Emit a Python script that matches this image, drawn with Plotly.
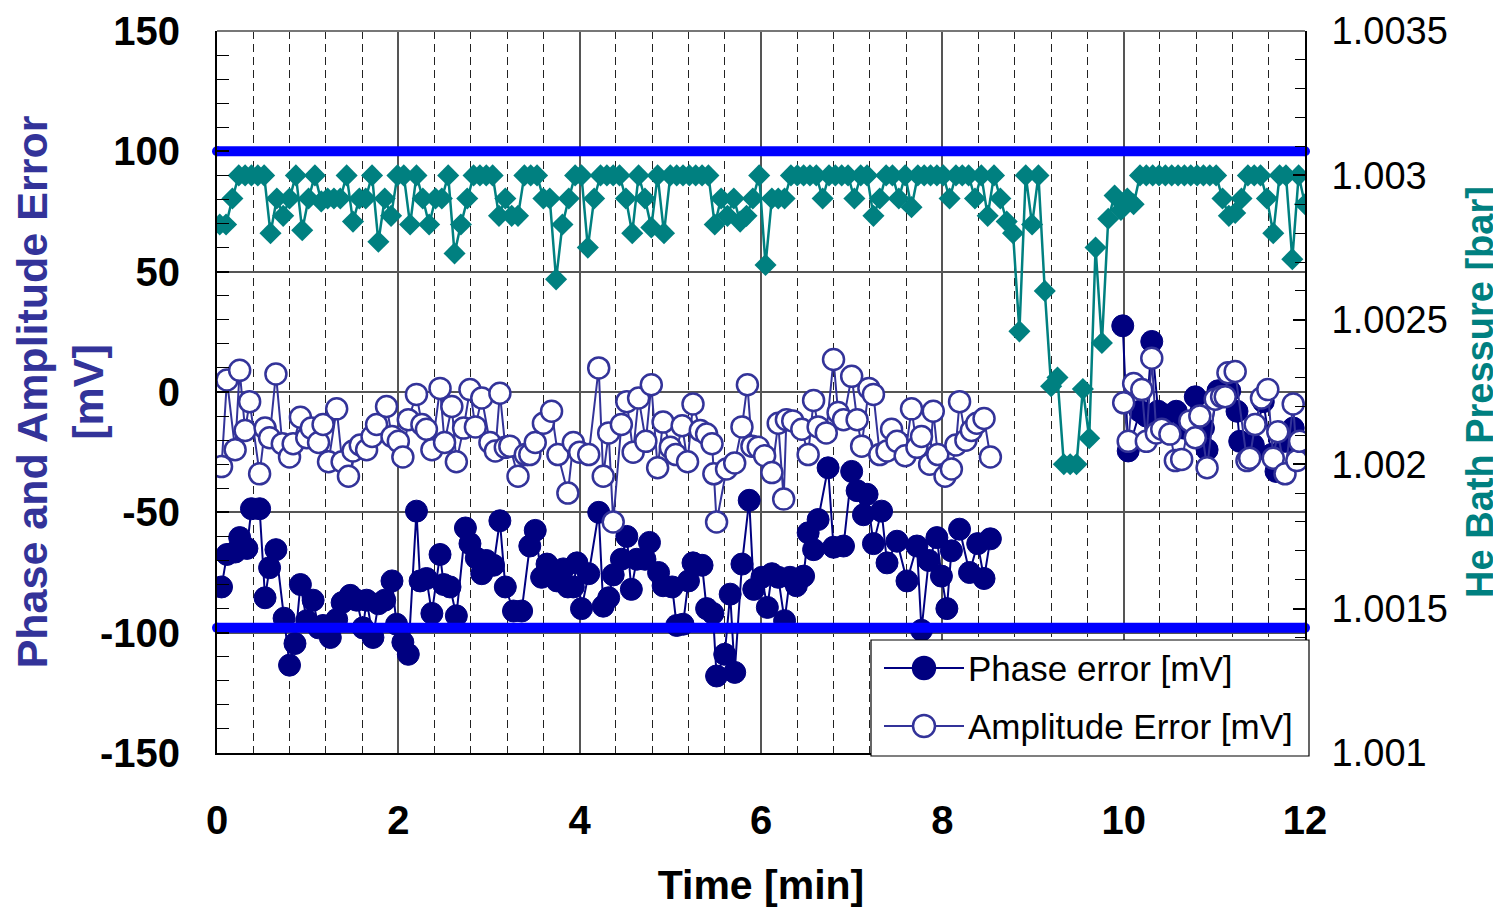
import numpy as np
import plotly.graph_objects as go

# ---------------- data ----------------
phase_t = [0.05, 0.11, 0.20, 0.25, 0.33, 0.38, 0.47, 0.53, 0.58, 0.65, 0.74, 0.80, 0.86, 0.92, 0.99,
           1.06, 1.12, 1.17, 1.25, 1.32, 1.38, 1.47, 1.54, 1.61, 1.65, 1.72, 1.78, 1.85, 1.93, 1.98,
           2.05, 2.11, 2.20, 2.24, 2.31, 2.37, 2.46, 2.50, 2.57, 2.64, 2.74, 2.79, 2.86, 2.92, 2.97,
           3.05, 3.12, 3.18, 3.27, 3.36, 3.45, 3.51, 3.58, 3.64, 3.75, 3.82, 3.87, 3.93, 3.97, 4.02,
           4.10, 4.21, 4.26, 4.32, 4.37, 4.46, 4.52, 4.57, 4.63, 4.72, 4.77, 4.87, 4.92, 5.02, 5.07,
           5.14, 5.20, 5.25, 5.35, 5.40, 5.47, 5.51, 5.60, 5.66, 5.71, 5.79, 5.87, 5.92, 6.01, 6.07,
           6.12, 6.19, 6.26, 6.32, 6.39, 6.47, 6.52, 6.58, 6.63, 6.74, 6.80, 6.91, 7.00, 7.06, 7.13,
           7.17, 7.24, 7.33, 7.39, 7.50, 7.61, 7.72, 7.77, 7.85, 7.94, 7.99, 8.05, 8.10, 8.19, 8.30,
           8.39, 8.46, 8.53,
           None,
           9.99, 10.05, 10.18, 10.25, 10.31, 10.38, 10.46, 10.58, 10.66, 10.79, 10.88, 10.92, 11.04,
           11.17, 11.25, 11.28, 11.43, 11.54, 11.63, 11.68, 11.78, 11.87, 11.94]
phase_v = [-81, -67.5, -66.5, -60.5, -65, -48.5, -48.5, -85.5, -73, -65.5, -94, -113.5, -104.5, -80, -95,
           -86.5, -98, -97, -102, -94.5, -87.5, -84.5, -86.5, -98, -86.5, -102, -88, -86.5, -78.5, -96.5,
           -104, -109, -49.5, -78.5, -77.5, -92, -67.5, -80, -81, -93, -56.5, -63, -69, -75.5, -70,
           -72, -53.5, -81, -91, -91, -64, -57.5, -77, -71.5, -78.5, -73.5, -81, -81, -71, -90,
           -75.5, -50, -89, -85.5, -76, -69.5, -60, -82, -69.5, -69.5, -62.5, -75, -80.5, -81, -97,
           -96.5, -78.5, -71, -72, -90, -92, -118, -109, -84, -116.5, -71.5, -45, -82, -77, -89.5,
           -75.5, -77, -95, -77, -80.5, -76.5, -58.5, -65.5, -53, -31.5, -64.5, -64, -33, -41, -51,
           -42.5, -63, -49.5, -71, -62, -78.5, -64, -99, -70, -60.5, -76.5, -90, -66, -57, -75,
           -63, -77.5, -61,
           None,
           27.5, -24.5, -8, -10, 21, -8, -9.5, -8, -15, -2, -15, -24, 0.5,
           0.5, -8, -20.5, -22, -4, -26, -33, -20.5, -15, -26]

amp_t = [0.05, 0.11, 0.20, 0.25, 0.31, 0.36, 0.47, 0.53, 0.58, 0.65, 0.72, 0.80, 0.84, 0.92, 0.99,
         1.04, 1.12, 1.17, 1.23, 1.32, 1.38, 1.45, 1.50, 1.58, 1.65, 1.71, 1.76, 1.87, 1.93, 2.00,
         2.05, 2.11, 2.20, 2.26, 2.31, 2.37, 2.46, 2.51, 2.59, 2.64, 2.72, 2.79, 2.85, 2.92, 3.01,
         3.07, 3.12, 3.18, 3.23, 3.32, 3.40, 3.45, 3.51, 3.60, 3.69, 3.76, 3.87, 3.93, 4.00, 4.10,
         4.21, 4.26, 4.32, 4.37, 4.46, 4.52, 4.59, 4.65, 4.73, 4.79, 4.86, 4.92, 5.00, 5.06, 5.13,
         5.19, 5.25, 5.33, 5.40, 5.46, 5.48, 5.51, 5.62, 5.71, 5.79, 5.85, 5.90, 5.97, 6.04, 6.12,
         6.19, 6.25, 6.28, 6.35, 6.45, 6.52, 6.58, 6.63, 6.72, 6.80, 6.85, 6.91, 7.00, 7.06, 7.11,
         7.19, 7.24, 7.31, 7.39, 7.44, 7.50, 7.59, 7.66, 7.72, 7.77, 7.86, 7.90, 7.95, 8.03, 8.10,
         8.15, 8.19, 8.26, 8.32, 8.38, 8.46, 8.53,
         None,
         10.00, 10.05, 10.11, 10.20, 10.25, 10.31, 10.36, 10.42, 10.51, 10.57, 10.64, 10.73, 10.79,
         10.84, 10.92, 11.01, 11.08, 11.12, 11.15, 11.23, 11.36, 11.39, 11.45, 11.52, 11.59, 11.65,
         11.70, 11.78, 11.87, 11.91, 11.94]
amp_v = [-31, 5, -24, 9, -16, -4, -34, -15, -19, 7.5, -21.5, -27, -21.5, -10.5, -19,
         -15, -21, -13.5, -29, -7, -29, -35, -24.5, -22, -24, -18.5, -13.5, -6, -18.5, -20.5,
         -27, -11.5, -1, -13.5, -15.5, -24, 1.5, -21, -6, -29, -15, 1, -14.5, -2.5, -21,
         -24.5, -0.5, -23, -22.5, -35, -26, -26, -21, -13, -8, -26, -42, -21, -25, -26,
         10, -35, -17, -54, -13.5, -4, -25, -2.5, -20.5, 3, -31.5, -12.5, -23, -26, -14,
         -29, -5, -16, -17.5, -21.5, -34, -54, -32, -29.5, -14.5, 3, -22.5, -23, -26.5, -33.5,
         -13, -44.5, -11.5, -12, -15.5, -26, -3.5, -14.5, -17, 13.5, -8.5, -11.5, 6.5, -11.5, -22.5,
         1.5, -1, -26, -24.5, -15.5, -20.5, -26.5, -7, -23, -18.5, -30, -8, -26, -35, -32,
         -22, -4, -20, -16, -13, -11, -27,
         None,
         -4.5, -20.5, 3.5, 1, -20.5, 14, -17, -15.5, -17.5, -28.5, -28, -12, -19,
         -10, -31.5, -3, -2, -2, 8, 8.5, -28.5, -27.5, -13.5, -2.5, 1, -27.5,
         -16.5, -34, -5, -28.5, -20.5]

press_v = [1.00283, 1.00283, 1.00292, 1.003, 1.003, 1.003, 1.003, 1.003, 1.0028, 1.00292,
           1.00286, 1.00292, 1.003, 1.00281, 1.00292, 1.003, 1.00291, 1.00292, 1.00292, 1.00292,
           1.003, 1.00284, 1.00292, 1.00292, 1.003, 1.00277, 1.00292, 1.00286, 1.003, 1.003,
           1.00283, 1.003, 1.00292, 1.00283, 1.00292, 1.00292, 1.003, 1.00273, 1.00283, 1.00292,
           1.003, 1.003, 1.003, 1.003, 1.00286, 1.00292, 1.00286, 1.00286, 1.003, 1.003,
           1.003, 1.00292, 1.00292, 1.00264, 1.00283, 1.00292, 1.003, 1.003, 1.00275, 1.00292,
           1.003, 1.003, 1.003, 1.003, 1.00292, 1.0028, 1.003, 1.00292, 1.00282, 1.003,
           1.0028, 1.003, 1.003, 1.003, 1.003, 1.003, 1.003, 1.003, 1.00283, 1.00292,
           1.00286, 1.00292, 1.00284, 1.00286, 1.00292, 1.003, 1.00269, 1.00292, 1.00292, 1.00292,
           1.003, 1.003, 1.003, 1.003, 1.003, 1.00292, 1.003, 1.003, 1.003, 1.003,
           1.00292, 1.003, 1.003, 1.00286, 1.00292, 1.003, 1.003, 1.00292, 1.003, 1.00289,
           1.003, 1.003, 1.003, 1.003, 1.003, 1.00292, 1.003, 1.003, 1.003, 1.00292,
           1.003, 1.00286, 1.003, 1.00292, 1.00284, 1.0028, 1.00246, 1.003, 1.00283, 1.003,
           1.0026, 1.00227, 1.0023, 1.0020, 1.0020, 1.0020, 1.00226, 1.00209, 1.00275, 1.00242,
           1.00285, 1.00293, 1.00288, 1.00292, 1.0029, 1.003, 1.003, 1.003, 1.003, 1.003,
           1.003, 1.003, 1.003, 1.003, 1.003, 1.003, 1.003, 1.003, 1.00292, 1.00286,
           1.00287, 1.00292, 1.003, 1.003, 1.003, 1.00292, 1.0028, 1.003, 1.003, 1.00271,
           1.003, 1.0029]
press_t = np.linspace(0.03, 12.0, len(press_v))  # regular sampling times [min]

limit_t = [0, 12]
upper_limit = [100, 100]
lower_limit = [-98, -98]

y1_ticks = [-150, -100, -50, 0, 50, 100, 150]
y1_labels = ["-150", "-100", "-50", "0", "50", "100", "150"]
y2_ticks = [1.001, 1.0015, 1.002, 1.0025, 1.003, 1.0035]
y2_labels = ["1.001", "1.0015", "1.002", "1.0025", "1.003", "1.0035"]

legend_names = ["Phase error [mV]", "Amplitude Error [mV]"]

# ---------------- figure ----------------
FONT = "Liberation Sans, Arial, sans-serif"
NAVY = "#000080"
AMP = "#333399"
TEAL = "#008080"
GRID = "#555555"

# the page body adds an 8 px offset; figure is sized to fill the rest of the window
PAGE_OFF = 8
FIG_W, FIG_H = 1493, 900
M_L, M_R, M_T, M_B = 209, 196, 23, 155
PLOT_W = FIG_W - M_L - M_R
PLOT_H = FIG_H - M_T - M_B
PLOT_LEFT = PAGE_OFF + M_L            # page px
PLOT_BOTTOM = PAGE_OFF + FIG_H - M_B  # page px

fig = go.Figure()
fig.add_trace(go.Scatter(
    x=phase_t, y=phase_v, name=legend_names[0], mode="lines+markers",
    line=dict(color=NAVY, width=2), connectgaps=False, showlegend=False,
    marker=dict(symbol="circle", size=22, color=NAVY, line=dict(color=NAVY, width=1))))
fig.add_trace(go.Scatter(
    x=amp_t, y=amp_v, name=legend_names[1], mode="lines+markers",
    line=dict(color=AMP, width=2), connectgaps=False, showlegend=False,
    marker=dict(symbol="circle", size=21, color="white", line=dict(color=AMP, width=2.5))))
for lim in (upper_limit, lower_limit):
    fig.add_trace(go.Scatter(
        x=limit_t, y=lim, mode="lines+markers", showlegend=False, cliponaxis=False,
        line=dict(color="#0000FF", width=10),
        marker=dict(size=10, color="#0000FF")))
fig.add_trace(go.Scatter(
    x=press_t, y=press_v, name="He Bath Pressure [bar]", yaxis="y2", mode="lines+markers",
    showlegend=False, line=dict(color=TEAL, width=2.5),
    marker=dict(symbol="diamond", size=17, color=TEAL)))

# ---- hand-built legend box (page pixel layout -> paper coordinates) ----
def pxx(X):
    return (X - PLOT_LEFT) / PLOT_W
def pyy(Y):
    return (PLOT_BOTTOM - Y) / PLOT_H

shapes = [
    # grey frame line along the top of the plot area
    dict(type="line", xref="paper", yref="paper", x0=0, x1=1, y0=1, y1=1,
         line=dict(color="#777777", width=2), layer="above"),
    dict(type="rect", xref="paper", yref="paper",
         x0=pxx(871), x1=pxx(1309), y0=pyy(756), y1=pyy(640),
         fillcolor="white", line=dict(color="black", width=1.2), layer="above"),
]
annotations = []
rows = [(668, NAVY, NAVY), (726, AMP, "white")]
for (rowy, lc, fc), name in zip(rows, legend_names):
    yy = pyy(rowy)
    shapes.append(dict(type="line", xref="paper", yref="paper",
                       x0=pxx(884), x1=pxx(964), y0=yy, y1=yy,
                       line=dict(color=lc, width=2), layer="above"))
    shapes.append(dict(type="circle", xref="paper", yref="paper",
                       x0=pxx(913), x1=pxx(935), y0=pyy(rowy + 11), y1=pyy(rowy - 11),
                       fillcolor=fc, line=dict(color=lc, width=2.5), layer="above"))
    annotations.append(dict(text=name, xref="paper", yref="paper", x=pxx(966), y=yy,
                            xanchor="left", yanchor="middle", showarrow=False,
                            font=dict(size=35, family=FONT, color="black")))

fig.update_layout(
    width=FIG_W, height=FIG_H,
    margin=dict(l=M_L, r=M_R, t=M_T, b=M_B, autoexpand=False),
    paper_bgcolor="white", plot_bgcolor="white",
    font=dict(family=FONT, color="black"),
    showlegend=False,
    shapes=shapes, annotations=annotations,
    xaxis=dict(range=[0, 12], dtick=2, tick0=0, automargin=False,
               showline=True, linecolor="black", linewidth=2, mirror=False,
               showgrid=True, gridcolor=GRID, gridwidth=1.5,
               ticks="", zeroline=False,
               tickfont=dict(size=40, family=FONT, color="black", weight="bold"),
               ticklabelstandoff=31,
               minor=dict(dtick=0.4, tick0=0, showgrid=True, griddash="8px,5px",
                          gridcolor="#222222", gridwidth=1, ticks=""),
               title=dict(text="Time [min]", standoff=34,
                          font=dict(size=41, family=FONT, color="black", weight="bold"))),
    yaxis=dict(range=[-150, 150], tickvals=y1_ticks, ticktext=y1_labels, automargin=False,
               showline=True, linecolor="black", linewidth=2,
               showgrid=True, gridcolor=GRID, gridwidth=1.5, zeroline=False,
               ticks="inside", ticklen=12, tickwidth=2, tickcolor="black",
               ticklabelstandoff=27, ticklabeloverflow="allow",
               tickfont=dict(size=40, family=FONT, color="black", weight="bold"),
               minor=dict(dtick=10, tick0=0, ticks="inside", ticklen=12, tickcolor="black",
                          tickwidth=1, showgrid=False),
               title=dict(text="Phase and Amplitude Error<br>[mV]", standoff=0,
                          font=dict(size=43, family=FONT, color=AMP, weight="bold"))),
    yaxis2=dict(overlaying="y", side="right", range=[1.001, 1.0035], automargin=False,
                tickvals=y2_ticks, ticktext=y2_labels,
                showline=True, linecolor="black", linewidth=2,
                showgrid=False, zeroline=False,
                ticks="inside", ticklen=12, tickwidth=2, tickcolor="black",
                ticklabelstandoff=17, ticklabeloverflow="allow",
                tickfont=dict(size=38, family=FONT, color="black"),
                minor=dict(dtick=0.0001, tick0=1.001, ticks="inside", ticklen=10,
                           tickcolor="black", tickwidth=1, showgrid=False),
                title=dict(text="He Bath Pressure [bar]", standoff=20,
                           font=dict(size=38, family=FONT, color=TEAL, weight="bold"))),
)

fig.write_html("out.html")
